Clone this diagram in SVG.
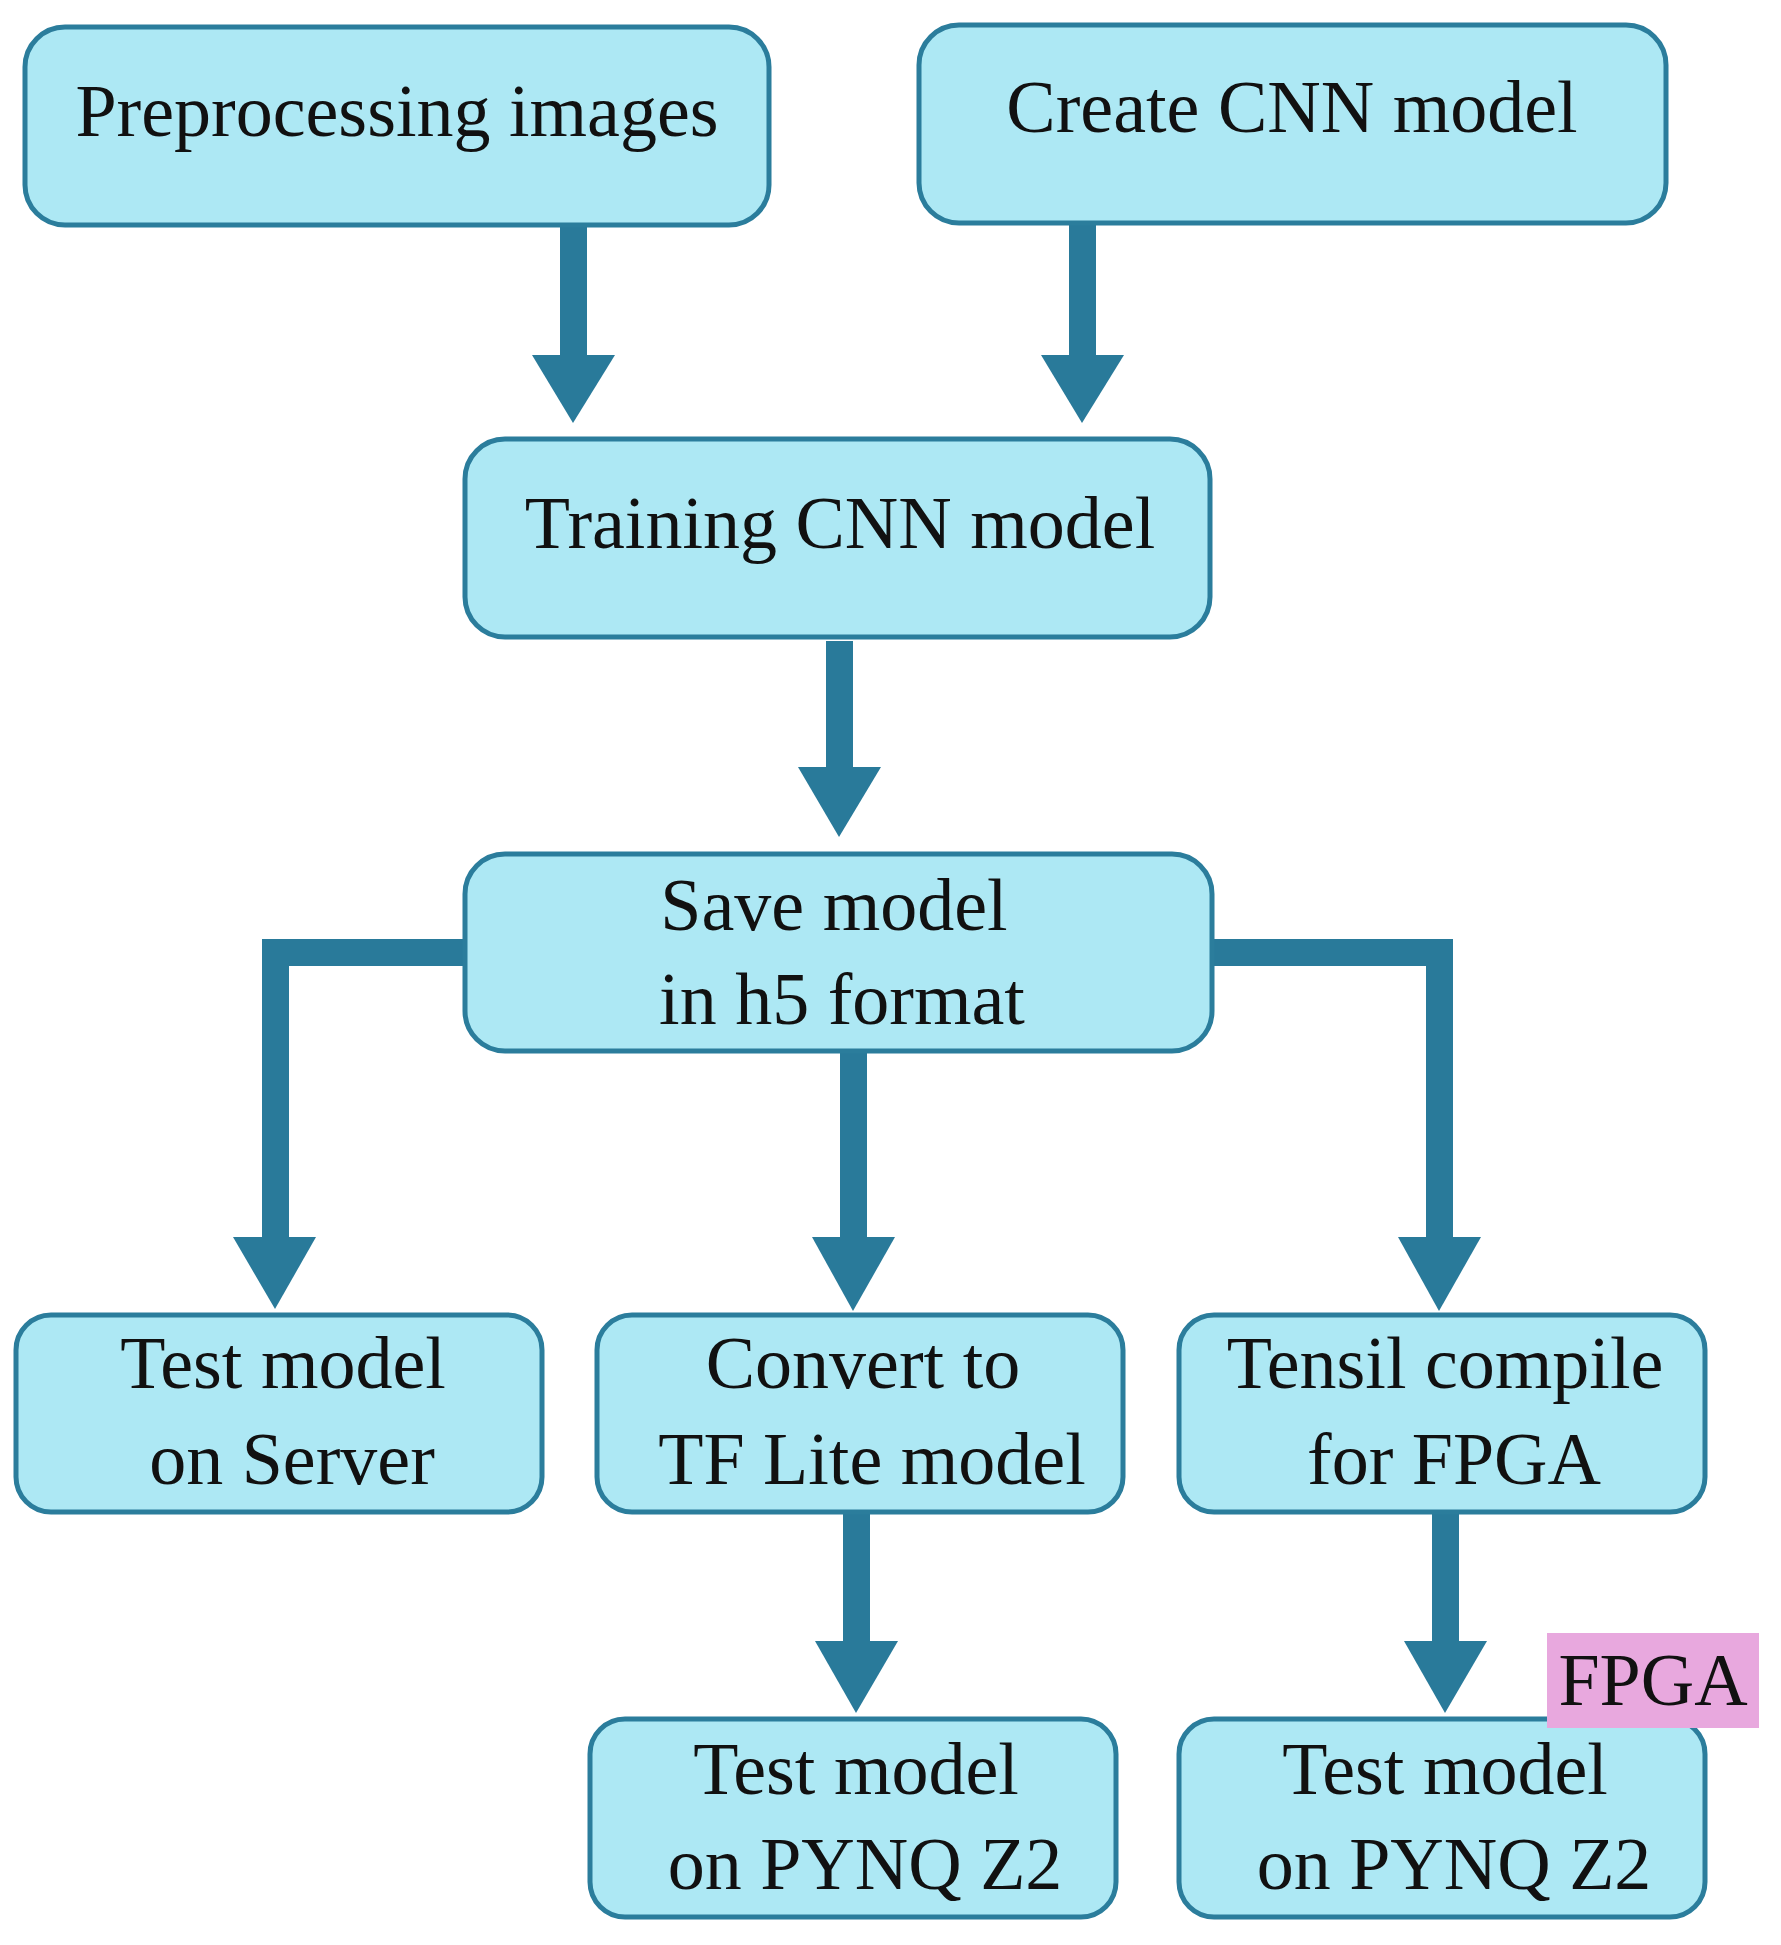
<svg xmlns="http://www.w3.org/2000/svg" width="1781" height="1945" viewBox="0 0 1781 1945">
<style>
.b{fill:#ade8f4;stroke:#2b7d9c;stroke-width:5}
.t{font-family:"Liberation Serif",serif;font-size:74px;fill:#111;text-anchor:middle}
.a{fill:#297a9a}
</style>
<rect width="1781" height="1945" fill="#fff"/>
<g id="connectors" class="a">
<rect x="560" y="225" width="27" height="132"/><polygon points="532,355 615,355 573,423"/>
<rect x="1069" y="223" width="27" height="134"/><polygon points="1041,355 1124,355 1082,423"/>
<rect x="826" y="641" width="27" height="128"/><polygon points="798,767 881,767 839,837"/>
<polygon points="467,939 262,939 262,1239 289,1239 289,966 467,966"/>
<polygon points="233,1237 316,1237 275,1309"/>
<rect x="840" y="1051" width="27" height="188"/><polygon points="812,1237 895,1237 853,1311"/>
<polygon points="1210,939 1453,939 1453,1239 1426,1239 1426,966 1210,966"/>
<polygon points="1398,1237 1481,1237 1439,1311"/>
<rect x="843" y="1512" width="27" height="131"/><polygon points="815,1641 898,1641 856,1713"/>
<rect x="1432" y="1512" width="27" height="131"/><polygon points="1404,1641 1487,1641 1445,1713"/>
</g>
<g id="n1"><rect class="b" x="25" y="27" width="744" height="198" rx="40"/><text class="t" x="397" y="136">Preprocessing images</text></g>
<g id="n2"><rect class="b" x="919" y="25" width="747" height="198" rx="40"/><text class="t" x="1292" y="132">Create CNN model</text></g>
<g id="n3"><rect class="b" x="465" y="439" width="745" height="198" rx="40"/><text class="t" x="840" y="548">Training CNN model</text></g>
<g id="n4"><rect class="b" x="465" y="854" width="747" height="197" rx="40"/><text class="t" x="834" y="930">Save model</text><text class="t" x="842" y="1024">in h5 format</text></g>
<g id="n5"><rect class="b" x="16" y="1315" width="526" height="197" rx="35"/><text class="t" x="283" y="1388">Test model</text><text class="t" x="292" y="1484">on Server</text></g>
<g id="n6"><rect class="b" x="597" y="1315" width="526" height="197" rx="35"/><text class="t" x="863" y="1388">Convert to</text><text class="t" x="872" y="1484">TF Lite model</text></g>
<g id="n7"><rect class="b" x="1179" y="1315" width="526" height="197" rx="35"/><text class="t" x="1445" y="1388">Tensil compile</text><text class="t" x="1454" y="1484">for FPGA</text></g>
<g id="n8"><rect class="b" x="590" y="1719" width="526" height="198" rx="35"/><text class="t" x="856" y="1794">Test model</text><text class="t" x="865" y="1889">on PYNQ Z2</text></g>
<g id="n9"><rect class="b" x="1179" y="1719" width="526" height="198" rx="35"/><text class="t" x="1445" y="1794">Test model</text><text class="t" x="1454" y="1889">on PYNQ Z2</text></g>
<g id="fpga"><rect x="1547" y="1633" width="212" height="95" fill="#e8a8de"/><text class="t" x="1653" y="1705">FPGA</text></g>
</svg>
